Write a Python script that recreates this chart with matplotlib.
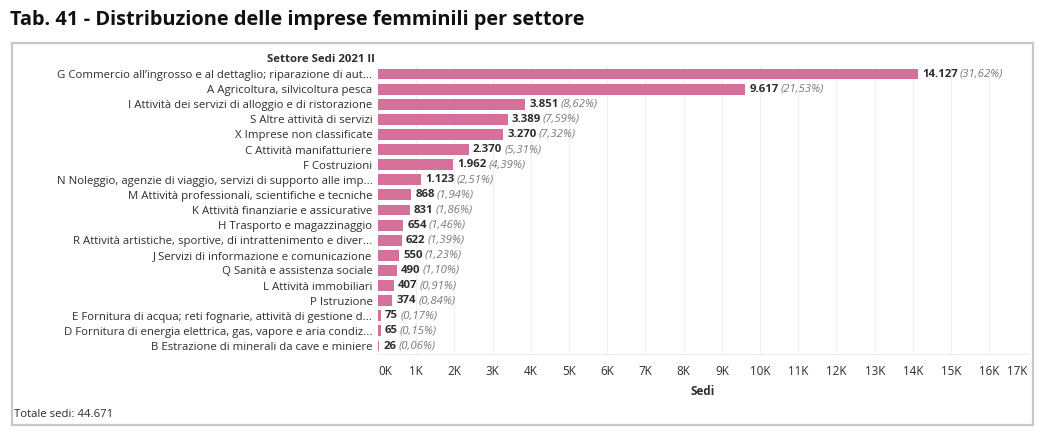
import matplotlib
matplotlib.use('Agg')
import matplotlib.pyplot as plt
from matplotlib.patches import Rectangle
from matplotlib.ticker import FixedLocator

plt.rcParams['font.family'] = ['Open Sans', 'DejaVu Sans']

settori = [
    'G Commercio all\u2019ingrosso e al dettaglio; riparazione di aut...',
    'A Agricoltura, silvicoltura pesca',
    'I Attività dei servizi di alloggio e di ristorazione',
    'S Altre attività di servizi',
    'X Imprese non classificate',
    'C Attività manifatturiere',
    'F Costruzioni',
    'N Noleggio, agenzie di viaggio, servizi di supporto alle imp...',
    'M Attività professionali, scientifiche e tecniche',
    'K Attività finanziarie e assicurative',
    'H Trasporto e magazzinaggio',
    'R Attività artistiche, sportive, di intrattenimento e diver...',
    'J Servizi di informazione e comunicazione',
    'Q Sanità e assistenza sociale',
    'L Attività immobiliari',
    'P Istruzione',
    'E Fornitura di acqua; reti fognarie, attività di gestione d...',
    'D Fornitura di energia elettrica, gas, vapore e aria condiz...',
    'B Estrazione di minerali da cave e miniere',
]
sedi = [14127, 9617, 3851, 3389, 3270, 2370, 1962, 1123, 868, 831,
        654, 622, 550, 490, 407, 374, 75, 65, 26]
totale = 44671
ticks = list(range(0, 17001, 1000))
tick_labels = ['%dK' % (t // 1000) for t in ticks]

bar_color = '#d5709a'
dark = '#2e2e2e'
fs = 8.2

fig = plt.figure(figsize=(10.4, 4.36), dpi=100)
ax = fig.add_axes([0.3635, 0.189, 0.6245, 0.6585])

y = list(range(len(sedi)))
ax.barh(y, sedi, height=0.72, color=bar_color)
ax.set_ylim(len(sedi) - 0.5, -0.5)
ax.set_xlim(0, 17000)

ax.set_yticks(y)
ax.set_yticklabels(settori, fontsize=fs, color=dark)
ax.tick_params(axis='y', length=0, pad=4)

ax.xaxis.set_major_locator(FixedLocator(ticks))
ax.set_xticklabels(tick_labels, fontsize=8.4, color=dark)
ax.tick_params(axis='x', length=0, pad=8)
xl = ax.get_xticklabels()
xl[0].set_ha('left')
xl[-1].set_ha('right')
ax.set_xlabel('Sedi', fontsize=8.4, fontweight='bold', color=dark, labelpad=5)

ax.grid(axis='x', color='#efefef', linewidth=0.8)
ax.set_axisbelow(True)
for s in ['top', 'right', 'left']:
    ax.spines[s].set_visible(False)
ax.spines['bottom'].set_color('#eeeeee')

for yi, v in zip(y, sedi):
    t1 = ax.annotate(f'{v:,}'.replace(',', '.'), xy=(v, yi), xytext=(3, 0),
                     textcoords='offset points', va='center', ha='left',
                     fontsize=fs, fontweight='bold', color=dark)
    pct = ('%.2f' % (v / totale * 100)).replace('.', ',')
    ax.annotate('(%s%%)' % pct, xy=(1, 0.5), xycoords=t1, xytext=(1.5, 0),
                textcoords='offset points', va='center', ha='left',
                fontsize=fs, fontstyle='italic', color='#7a7a7a')

fig.text(375 / 1040, 1 - 59 / 436, 'Settore Sedi 2021 II', ha='right', va='center',
         fontsize=fs, fontweight='bold', color=dark)
fig.text(10 / 1040, 1 - 20 / 436, 'Tab. 41 - Distribuzione delle imprese femminili per settore',
         ha='left', va='center', fontsize=14.4, fontweight='bold', color='#111111')
fig.text(14 / 1040, 1 - 414 / 436, 'Totale sedi: 44.671', ha='left', va='center',
         fontsize=fs, color=dark)

fig.patches.append(Rectangle((12 / 1040, 1 - 425 / 436), 1021 / 1040, 382 / 436,
                             transform=fig.transFigure, fill=False,
                             edgecolor='#c8c8c8', linewidth=1.6))

fig.savefig('out.png', dpi=100)
